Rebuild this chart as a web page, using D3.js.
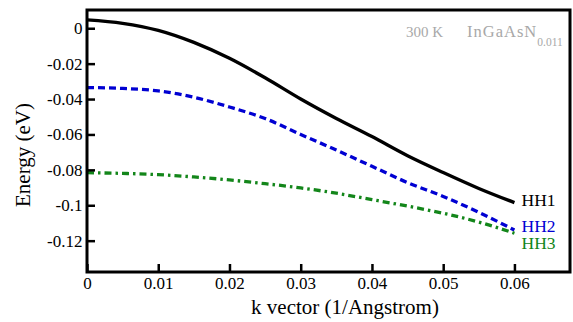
<!DOCTYPE html>
<html>
<head>
<meta charset="utf-8">
<script src="https://cdn.jsdelivr.net/npm/d3@7"></script>
<style>
  html, body { margin: 0; padding: 0; background: #fff; }
  svg { display: block; }
</style>
</head>
<body>
<svg id="chart" width="573" height="322"></svg>
<script>
// Heavy-hole subband dispersion, InGaAsN at 300 K
const kVector = [0, 0.005, 0.01, 0.015, 0.02, 0.025, 0.03, 0.035, 0.04, 0.045, 0.05, 0.055, 0.06];
const hh1 = [0.0047, 0.0028, -0.0012, -0.0080, -0.0170, -0.0280, -0.0400, -0.0510, -0.0612, -0.0720, -0.0815, -0.0905, -0.0985];
const hh2 = [-0.0335, -0.0340, -0.0354, -0.0390, -0.0445, -0.0510, -0.0600, -0.0688, -0.0780, -0.0872, -0.0950, -0.1040, -0.1140];
const hh3 = [-0.0816, -0.0820, -0.0827, -0.0840, -0.0857, -0.0878, -0.0902, -0.0932, -0.0968, -0.1005, -0.1045, -0.1095, -0.1158];
const seriesNames = ["HH1", "HH2", "HH3"];
const xTicks = [0, 0.01, 0.02, 0.03, 0.04, 0.05, 0.06];
const xTickLabels = ["0", "0.01", "0.02", "0.03", "0.04", "0.05", "0.06"];
const yTicks = [0, -0.02, -0.04, -0.06, -0.08, -0.1, -0.12];
const yTickLabels = ["0", "-0.02", "-0.04", "-0.06", "-0.08", "-0.1", "-0.12"];

const FONT = "'Liberation Serif', 'Times New Roman', serif";
const svg = d3.select("#chart");
const plotLeft = 87, plotRight = 570, plotTop = 10, plotBottom = 272;

const x = d3.scaleLinear().domain([0, 0.0678]).range([plotLeft, plotRight]);
const y = d3.scaleLinear().domain([-0.1377, 0.0103]).range([plotBottom, plotTop]);

svg.append("defs").append("clipPath").attr("id", "plotClip")
  .append("rect").attr("x", plotLeft).attr("y", plotTop)
  .attr("width", plotRight - plotLeft).attr("height", plotBottom - plotTop);

// curves
const styles = [
  { color: "#000000", dash: null },
  { color: "#0000d2", dash: "7,4" },
  { color: "#13861a", dash: "7,4,2.5,4" }
];
const allSeries = [hh1, hh2, hh3];
const line = d3.line()
  .x(d => x(d[0]))
  .y(d => y(d[1]))
  .curve(d3.curveMonotoneX);

const g = svg.append("g").attr("clip-path", "url(#plotClip)");
allSeries.forEach((vals, i) => {
  g.append("path")
    .datum(kVector.map((k, j) => [k, vals[j]]))
    .attr("d", line)
    .attr("fill", "none")
    .attr("stroke", styles[i].color)
    .attr("stroke-width", 3.3)
    .attr("stroke-dasharray", styles[i].dash)
    .attr("stroke-linejoin", "round");
});

// frame
svg.append("rect")
  .attr("x", plotLeft).attr("y", plotTop)
  .attr("width", plotRight - plotLeft).attr("height", plotBottom - plotTop)
  .attr("fill", "none").attr("stroke", "#000").attr("stroke-width", 3);

// axes with inward ticks
const xAxis = d3.axisBottom(x).tickValues(xTicks)
  .tickFormat((d, i) => xTickLabels[i]).tickSizeInner(-8).tickSizeOuter(0).tickPadding(5);
const xg = svg.append("g").attr("transform", `translate(0,${plotBottom})`).call(xAxis);
xg.select(".domain").remove();
xg.selectAll(".tick line").attr("stroke", "#000").attr("stroke-width", 2.5);
xg.selectAll(".tick text").attr("fill", "#000")
  .style("font-family", FONT).style("font-size", "17px");

const yAxis = d3.axisLeft(y).tickValues(yTicks)
  .tickFormat((d, i) => yTickLabels[i]).tickSizeInner(-8).tickSizeOuter(0).tickPadding(4.5);
const yg = svg.append("g").attr("transform", `translate(${plotLeft},0)`).call(yAxis);
yg.select(".domain").remove();
yg.selectAll(".tick line").attr("stroke", "#000").attr("stroke-width", 2.5);
yg.selectAll(".tick text").attr("fill", "#000")
  .style("font-family", FONT).style("font-size", "17px");

// axis titles
svg.append("text")
  .attr("x", 345).attr("y", 314)
  .attr("text-anchor", "middle")
  .style("font-family", FONT).style("font-size", "21px")
  .text("k vector (1/Angstrom)");
svg.append("text")
  .attr("transform", "translate(30,155) rotate(-90)")
  .attr("text-anchor", "middle")
  .style("font-family", FONT).style("font-size", "21px")
  .text("Energy (eV)");

// series labels at the curve ends
const labelPos = [205.7, 232.3, 249.3];
seriesNames.forEach((name, i) => {
  svg.append("text")
    .attr("x", 521.5).attr("y", labelPos[i])
    .style("font-family", FONT).style("font-size", "17.5px")
    .attr("fill", styles[i].color)
    .text(name);
});

// material / temperature note
const note = svg.append("text")
  .attr("y", 37)
  .style("font-family", FONT)
  .attr("fill", "#a8a8a8");
note.append("tspan").attr("x", 406).style("font-size", "15px").text("300 K");
note.append("tspan").attr("x", 467).style("font-size", "16.5px")
  .style("letter-spacing", "1px").text("InGaAsN");
note.append("tspan").attr("dy", 9).style("font-size", "11.5px")
  .style("letter-spacing", "0px").text("0.011");
</script>
</body>
</html>
